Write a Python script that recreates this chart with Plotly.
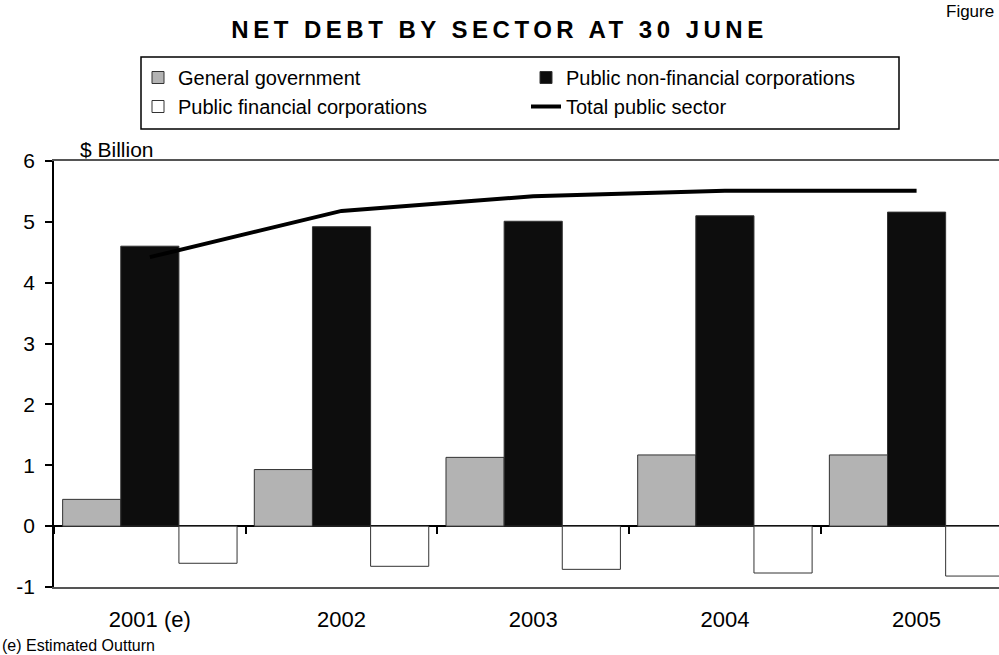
import plotly.graph_objects as go

# Net debt by sector, $ billion, at 30 June
years = ["2001 (e)", "2002", "2003", "2004", "2005"]
general_government = [0.44, 0.93, 1.13, 1.17, 1.17]
public_nonfin_corps = [4.60, 4.92, 5.01, 5.10, 5.16]
public_fin_corps = [-0.61, -0.66, -0.71, -0.77, -0.82]
total_public_sector = [4.42, 5.18, 5.42, 5.51, 5.51]

y_min, y_max = -1, 6
y_ticks = list(range(y_min, y_max + 1))
y_ticktext = [str(v) for v in y_ticks]  # plain hyphen for negatives
x_range = [-0.5, 4.43]

FONT = "Liberation Sans, Arial, sans-serif"
W, H = 999, 655
M = dict(l=54, r=0, t=161, b=68)

fig = go.Figure()
bar_line = dict(color="#333333", width=1)
fig.add_bar(x=years, y=general_government, name="General government",
            marker=dict(color="#b3b3b3", line=bar_line), legend="legend")
fig.add_bar(x=years, y=public_nonfin_corps, name="Public non-financial corporations",
            marker=dict(color="#0d0d0d", line=bar_line), legend="legend2")
fig.add_bar(x=years, y=public_fin_corps, name="Public financial corporations",
            marker=dict(color="#ffffff", line=bar_line), legend="legend")
# the total line sits on an overlaid copy of the category axis, whose
# boundary ticks are drawn along the zero line
fig.add_scatter(x=years, y=total_public_sector, name="Total public sector",
                mode="lines", line=dict(color="#000000", width=4),
                legend="legend2", xaxis="x2", yaxis="y")

# paper <-> pixel helpers for layout placement
pw = W - M["l"] - M["r"]
ph = H - M["t"] - M["b"]
def px_x(px):
    return (px - M["l"]) / pw
def px_y(py):
    return (H - M["b"] - py) / ph

legend_common = dict(font=dict(family=FONT, size=20, color="#000000"),
                     bgcolor="rgba(0,0,0,0)", borderwidth=0,
                     xanchor="left", yanchor="top", tracegroupgap=0,
                     itemwidth=30, traceorder="normal")

zero_pos = (0 - y_min) / (y_max - y_min)

fig.update_layout(
    width=W, height=H, margin=M,
    paper_bgcolor="#ffffff", plot_bgcolor="#ffffff",
    font=dict(family=FONT, size=20, color="#000000"),
    barmode="group", bargap=0.09, bargroupgap=0,
    title=dict(text='<b><span style="letter-spacing:4.5px">NET DEBT BY SECTOR AT 30 JUNE</span></b>',
               x=0.5, xref="container", xanchor="center",
               y=1 - 30 / H, yref="container", yanchor="middle",
               font=dict(family=FONT, size=24, color="#000000")),
    xaxis=dict(type="category", categoryarray=years, range=x_range,
               showgrid=False, ticks="", showline=True, mirror=True,
               linecolor="#555555", linewidth=1.5,
               tickfont=dict(family=FONT, size=22), ticklabelstandoff=12),
    xaxis2=dict(type="category", categoryarray=years, range=x_range,
                overlaying="x", anchor="free", position=zero_pos,
                showgrid=False, showline=False, zeroline=False,
                tickson="boundaries", ticks="outside", ticklen=7,
                tickcolor="#000000", tickwidth=1.5, showticklabels=False),
    yaxis=dict(range=[y_min, y_max], tickvals=y_ticks, ticktext=y_ticktext,
               showgrid=False,
               zeroline=True, zerolinecolor="#000000", zerolinewidth=1.5,
               showline=True, linecolor="#000000", linewidth=1.5,
               ticks="outside", ticklen=7, tickcolor="#000000", tickwidth=1.5,
               tickfont=dict(family=FONT, size=21), ticklabelstandoff=6),
    legend=dict(x=px_x(138), y=px_y(58), **legend_common),
    legend2=dict(x=px_x(526), y=px_y(58), **legend_common),
    showlegend=True,
)

# box around the two legend columns
fig.add_shape(type="rect", xref="paper", yref="paper",
              x0=px_x(141), x1=px_x(899), y0=px_y(129), y1=px_y(57),
              line=dict(color="#000000", width=1.5), fillcolor="rgba(0,0,0,0)")

fig.add_annotation(text="$ Billion", xref="paper", yref="paper",
                   x=px_x(78), y=px_y(150), xanchor="left", yanchor="middle",
                   showarrow=False, font=dict(family=FONT, size=21))
fig.add_annotation(text="(e) Estimated Outturn", xref="paper", yref="paper",
                   x=px_x(0), y=px_y(645), xanchor="left", yanchor="middle",
                   showarrow=False, font=dict(family=FONT, size=16))
fig.add_annotation(text="Figure", xref="paper", yref="paper",
                   x=px_x(944), y=px_y(11), xanchor="left", yanchor="middle",
                   showarrow=False, font=dict(family=FONT, size=17))

fig.write_html("out.html")
